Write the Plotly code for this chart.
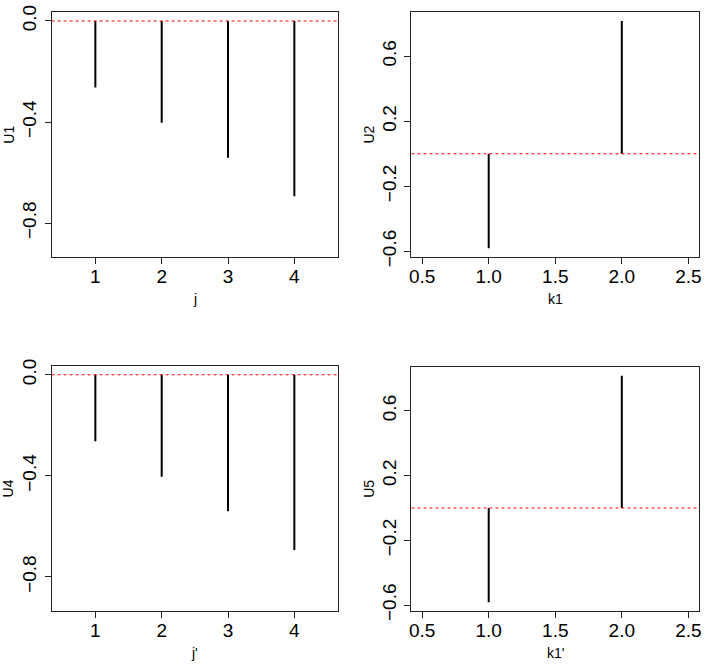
import plotly.graph_objects as go

# ---- data ----
j_idx = [1, 2, 3, 4]
U1 = [-0.263, -0.403, -0.541, -0.694]
U4 = [-0.263, -0.404, -0.540, -0.694]
k1_idx = [1, 2]
U2 = [-0.582, 0.817]
U5 = [-0.582, 0.817]

y_ticks_left = [0.0, -0.4, -0.8]
y_ticks_right = [0.6, 0.2, -0.2, -0.6]
x_ticks_left = [1, 2, 3, 4]
x_ticks_right = [0.5, 1.0, 1.5, 2.0, 2.5]
ref_level = 0.0

W, H = 705, 670
FONT = "Liberation Sans, Arial, Helvetica, sans-serif"

# pixel boxes of the four panels (left, right, top, bottom)
boxes = [
    (49, 338, 5, 257),
    (412, 702, 5, 257),
    (49, 338, 368, 620),
    (412, 702, 369, 620),
]

panels = [
    dict(x=j_idx, y=U1, xt="j", yt="U1", xr=[0.34, 4.66], yr=[-0.936, 0.036],
         xticks=x_ticks_left, xfmt=None, yticks=y_ticks_left),
    dict(x=k1_idx, y=U2, xt="k1", yt="U2", xr=[0.42, 2.58], yr=[-0.638, 0.873],
         xticks=x_ticks_right, xfmt=".1f", yticks=y_ticks_right),
    dict(x=j_idx, y=U4, xt="j'", yt="U4", xr=[0.34, 4.66], yr=[-0.936, 0.036],
         xticks=x_ticks_left, xfmt=None, yticks=y_ticks_left),
    dict(x=k1_idx, y=U5, xt="k1'", yt="U5", xr=[0.42, 2.58], yr=[-0.638, 0.873],
         xticks=x_ticks_right, xfmt=".1f", yticks=y_ticks_right),
]

fig = go.Figure()
layout = dict(
    width=W, height=H, margin=dict(l=0, r=0, t=0, b=0),
    paper_bgcolor="white", plot_bgcolor="white", showlegend=False,
    font=dict(family=FONT, color="black"),
    shapes=[], annotations=[],
)

for i, (p, b) in enumerate(zip(panels, boxes)):
    n = "" if i == 0 else str(i + 1)
    xa, ya = "x" + n, "y" + n
    l, r, t, bt = b
    # vertical segments from 0 to value
    xs, ys = [], []
    for xv, yv in zip(p["x"], p["y"]):
        xs += [xv, xv, None]
        ys += [0, yv, None]
    fig.add_trace(go.Scatter(x=xs, y=ys, mode="lines",
                             line=dict(color="black", width=2),
                             xaxis=xa, yaxis=ya, hoverinfo="skip"))
    axis_common = dict(showgrid=False, zeroline=False, showline=True, mirror=True,
                       linecolor="#222", linewidth=1, ticks="outside", ticklen=6,
                       tickwidth=1, tickcolor="#222",
                       tickfont=dict(size=19, family=FONT, color="black"))
    layout["xaxis" + n] = dict(axis_common, domain=[l / W, r / W], range=p["xr"],
                               anchor=ya, tickmode="array", tickvals=p["xticks"],
                               ticktext=[(format(v, p["xfmt"]) if p["xfmt"] else str(v)) for v in p["xticks"]],
                               ticklabelstandoff=-4)
    layout["yaxis" + n] = dict(axis_common, domain=[1 - bt / H, 1 - t / H], range=p["yr"],
                               anchor=xa, tickmode="array", tickvals=p["yticks"],
                               ticktext=[f"{v:.1f}".replace("-", "\u2212") for v in p["yticks"]],
                               tickangle=-90, ticklabelstandoff=1)
    # red dashed reference line
    layout["shapes"].append(dict(type="line", xref=xa + " domain", yref=ya,
                                 x0=0, x1=1, y0=ref_level, y1=ref_level,
                                 line=dict(color="#ff0000", width=1, dash="3px,3px")))
    # axis titles
    layout["annotations"].append(dict(text=p["xt"], xref="paper", yref="paper",
                                      x=(l + r) / 2 / W, y=1 - (bt + 43) / H,
                                      xanchor="center", yanchor="middle", showarrow=False,
                                      font=dict(size=14, family=FONT, color="black")))
    layout["annotations"].append(dict(text=p["yt"], xref="paper", yref="paper",
                                      x=(l - 43) / W, y=1 - (t + bt) / 2 / H,
                                      xanchor="center", yanchor="middle", showarrow=False,
                                      textangle=-90,
                                      font=dict(size=14, family=FONT, color="black")))

fig.update_layout(**layout)
fig.write_html("out.html", config={"displayModeBar": False},
               post_script="document.body.style.margin='0px';document.body.style.overflow='hidden';")
